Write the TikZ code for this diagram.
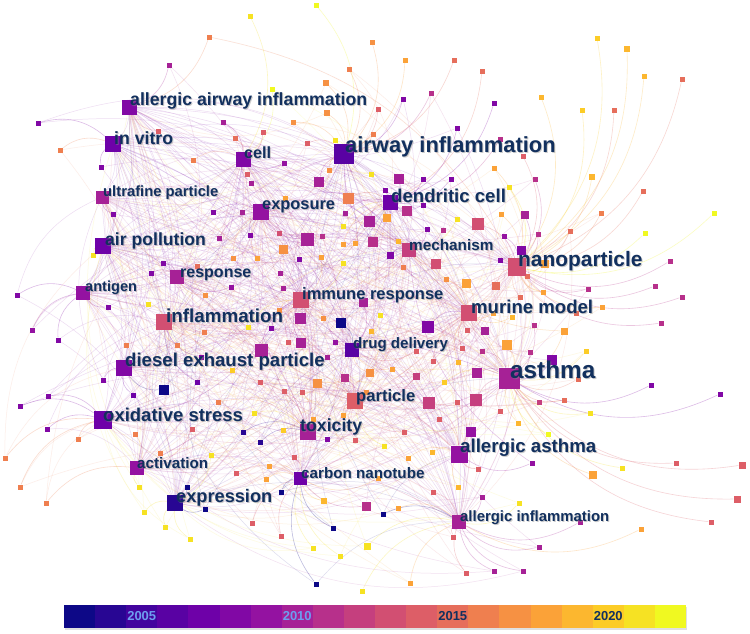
\documentclass[tikz,border=0pt]{standalone}
\usepackage{fontspec}
\setmainfont{Liberation Sans}
\pgfdeclarelayer{bg}
\pgfsetlayers{bg,main}
\definecolor{c0}{HTML}{0D0887}
\definecolor{c1}{HTML}{280693}
\definecolor{c2}{HTML}{43049E}
\definecolor{c3}{HTML}{5902A3}
\definecolor{c4}{HTML}{6E01A8}
\definecolor{c5}{HTML}{8108A5}
\definecolor{c6}{HTML}{9412A1}
\definecolor{c7}{HTML}{A62196}
\definecolor{c8}{HTML}{B7308B}
\definecolor{c9}{HTML}{C53F7E}
\definecolor{c10}{HTML}{D24F72}
\definecolor{c11}{HTML}{DD5E67}
\definecolor{c12}{HTML}{E66E5B}
\definecolor{c13}{HTML}{EF7F4F}
\definecolor{c14}{HTML}{F69143}
\definecolor{c15}{HTML}{FBA238}
\definecolor{c16}{HTML}{FCB72F}
\definecolor{c17}{HTML}{FCCC26}
\definecolor{c18}{HTML}{F6E223}
\definecolor{c19}{HTML}{F0F921}
\definecolor{labnavy}{HTML}{12305E}
\definecolor{lightyear}{HTML}{6D9DF0}
\tikzset{
  sq/.style={rectangle, inner sep=0pt, minimum size=#1, draw=none},
  edge/.style={draw=#1, draw opacity=0.27, line width=0.6pt},
  edgefaint/.style={draw=#1, draw opacity=0.14, line width=0.5pt},
  lab/.style={anchor=west, inner sep=0pt, text=labnavy},
  labshadow/.style={anchor=west, inner sep=0pt, text=black!45, text opacity=0.45},
  yearlab/.style={inner sep=0pt, font=\bfseries\fontsize{13}{13}\selectfont}
}
\def\hublist{129/107/15/5, 113/144/16/4, 243/159/15/5, 102/197/13/7, 261/212/16/6,
 103/246/16/4, 177/277/14/7, 83/293/14/6, 344/154/20/3, 390/202/15/4,
 409/250/14/9, 517/267/18/10, 301/300/16/10, 469/313/16/10, 164/322/16/10,
 124/368/16/5, 352/350/14/3, 509/378/21/7, 103/420/18/4, 355/401/16/11,
 308/432/16/7, 459/454/17/6, 137/468/14/6, 300/478/13/4, 175/503/16/1, 459/522/14/7}
\def\hubcol{{5,4,5,7,6,4,7,6,3,4,9,10,10,10,10,5,3,7,4,11,7,6,6,4,1,7}}
\def\smalllist{316/5/5/19, 250/16/5/18, 209/37/5/13, 169/65/5/7, 372/42/5/14,
 405/60/5/15, 454/60/5/12, 482/71/5/12, 349/69/5/13, 326/83/6/14, 272/89/5/19,
 403/99/5/5, 431/93/5/8, 378/109/5/11, 494/103/5/5, 541/97/5/16, 597/38/5/17,
 582/110/5/17, 327/113/6/14, 293/122/5/14, 223/122/5/7, 457/128/5/5, 627/49/6/16,
 644/76/5/16, 682/79/5/12, 614/110/5/12, 592/177/6/16, 643/191/5/12, 601/213/5/13,
 714/213/5/19, 570/231/5/12, 645/233/5/19, 670/261/5/8, 655/286/5/8, 588/289/5/8,
 682/297/5/8, 602/307/5/15, 661/323/5/8, 564/331/7/15, 586/351/5/17, 578/379/5/12,
 651/385/5/5, 720/394/5/5, 564/400/5/12, 590/413/5/18, 500/139/5/8, 523/156/5/11,
 494/168/5/15, 535/179/5/8, 509/187/5/18, 451/179/5/5, 457/219/5/18, 478/224/12/10,
 501/214/5/15, 525/215/8/7, 538/234/5/8, 504/236/5/6, 521/250/9/5, 500/260/5/5,
 527/276/5/12, 545/264/8/15, 466/283/9/15, 496/286/8/12, 543/292/5/15, 520/297/5/12,
 576/313/5/12, 512/317/5/16, 493/313/5/15, 467/330/5/11, 485/331/8/7, 534/325/5/8,
 507/345/10/15, 373/134/5/13, 335/140/5/18, 371/174/5/18, 399/179/10/7, 423/179/5/5,
 348/198/11/13, 385/190/5/5, 407/211/10/8, 423/205/5/5, 345/213/5/7, 369/221/11/7,
 387/218/8/15, 343/226/5/18, 427/229/5/5, 443/230/5/8, 373/242/10/8, 398/241/5/16,
 390/255/7/5, 343/244/5/15, 355/243/5/15, 343/263/5/18, 403/267/5/13, 436/264/10/10,
 446/279/5/14, 363/302/9/7, 158/131/5/11, 235/138/5/12, 263/132/5/11, 307/143/5/11,
 193/160/5/13, 284/163/5/6, 101/167/5/5, 247/174/5/11, 251/183/5/7, 329/170/5/14,
 319/182/10/7, 113/214/5/5, 213/212/5/5, 242/212/5/7, 285/198/5/15, 93/255/5/18,
 163/263/5/5, 219/238/5/7, 250/235/5/5, 279/233/5/10, 283/249/9/14, 307/239/13/7,
 322/236/5/8, 151/273/5/5, 197/266/5/12, 233/258/5/14, 257/258/5/15, 280/273/5/7,
 299/259/5/5, 321/257/5/15, 108/307/5/5, 148/304/5/18, 205/295/5/14, 231/287/5/6,
 283/288/5/7, 279/310/5/14, 300/318/11/7, 323/318/5/14, 341/323/10/0, 204/332/5/13,
 248/327/5/18, 271/328/5/5, 177/345/5/13, 126/345/5/13, 201/357/5/5, 261/350/13/7,
 288/342/5/11, 301/343/10/7, 335/342/5/6, 327/357/5/7, 232/370/5/17, 103/380/5/5,
 164/390/10/0, 197/382/5/4, 260/382/5/11, 317/383/9/14, 345/378/8/8, 133/395/5/4,
 284/391/5/11, 302/392/5/11, 218/402/5/13, 254/413/5/18, 192/429/5/11, 243/432/5/1,
 260/442/5/1, 135/434/5/13, 78/439/5/13, 283/430/5/17, 313/419/5/15, 327/439/5/5,
 355/440/5/11, 160/453/5/13, 211/455/5/18, 294/457/5/11, 236/473/5/11, 269/466/5/15,
 266/479/5/15, 187/487/5/0, 139/487/5/18, 205/509/5/0, 281/492/5/0, 324/501/6/16,
 144/512/5/18, 380/315/5/18, 371/331/5/16, 428/327/12/5, 462/348/5/11, 482/351/5/8,
 530/352/5/8, 433/361/5/11, 458/362/5/16, 392/369/5/15, 416/351/5/11, 370/373/8/14,
 416/376/7/9, 444/382/5/17, 477/373/10/7, 552/360/10/5, 366/392/5/14, 343/415/5/15,
 429/403/12/9, 457/402/5/11, 476/400/12/9, 500/411/5/11, 539/402/5/9, 439/419/5/11,
 518/423/5/16, 548/434/5/19, 471/432/10/6, 404/432/5/11, 384/446/5/18, 408/458/5/15,
 432/452/5/16, 478/469/5/11, 532/463/5/6, 593/475/8/15, 622/468/5/18, 676/463/5/11,
 458/487/5/16, 433/492/5/11, 378/478/5/15, 482/497/5/7, 519/503/5/18, 366/506/9/8,
 398/508/5/15, 383/514/5/0, 333/528/5/0, 453/537/5/11, 641/529/5/15, 580/522/5/7,
 48/396/5/5, 20/406/5/5, 47/429/5/5, 5/458/5/13, 20/487/5/13, 46/503/5/13,
 165/527/5/18, 190/539/5/18, 252/523/5/11, 281/536/5/11, 313/548/5/18, 316/584/5/0,
 367/546/7/18, 340/556/5/18, 362/591/5/18, 410/583/5/15, 466/573/5/11, 494/571/5/7,
 523/571/5/7, 539/547/5/7, 711/522/5/11, 737/499/7/11, 742/465/7/11, 38/123/5/5,
 60/150/5/13, 17/295/5/5, 32/330/5/6, 58/340/5/5}
\begin{document}
\begin{tikzpicture}[x=1pt, y=-1pt]
\useasboundingbox (0,0) rectangle (750,633);
\pgfmathsetseed{17}
% nodes
\foreach \x/\y/\s/\cc [count=\k] in \smalllist {
  \node[sq=\s, fill=c\cc] (s\k) at (\x,\y) {};
}
\foreach \x/\y/\s/\cc [count=\k] in \hublist {
  \node[sq=\s, fill=c\cc] (h\k) at (\x,\y) {};
}
% connectors
\begin{pgfonlayer}{bg}
\fill[white] (0,0) rectangle (750,633);
\foreach \x/\y/\s/\cc [count=\k] in \smalllist {
  \gdef\bestd{10000}\gdef\besth{1}
  \foreach \hx/\hy/\hs/\hc [count=\j] in \hublist {
    \pgfmathsetmacro\dd{veclen(\x-\hx,\y-\hy)}
    \ifdim\dd pt<\bestd pt\relax \xdef\bestd{\dd}\xdef\besth{\j}\fi
  }
  \draw[edge=c\cc] (s\k) to[bend left=28] (h\besth);
  \ifdim\bestd pt<110pt\relax
    \pgfmathrandominteger{\rr}{1}{26}
    \draw[edgefaint=c\cc] (s\k) to[bend left=25] (h\rr);
    \pgfmathrandominteger{\rr}{1}{26}
    \draw[edgefaint=c\cc] (s\k) to[bend left=25] (h\rr);
  \fi
}
\foreach \ia in {1,...,25} {
  \pgfmathtruncatemacro\ib{\ia+1}
  \pgfmathtruncatemacro\ca{\hubcol[\ia-1]}
  \foreach \jb in {\ib,...,26} {
    \draw[edgefaint=c\ca] (h\ia) to[bend left=20] (h\jb);
  }
}
\end{pgfonlayer}
% labels
\foreach \x/\y/\fs/\tx [count=\k] in {
 130/101/17.7/allergic airway inflammation, 114/138/17.7/in vitro, 244/153/16.2/cell,
 103/193/14.8/ultrafine particle, 262/207/16.4/exposure, 105/241/17.6/air pollution,
 180/275/16/response, 85/288/14.6/antigen, 345/147/21.9/airway inflammation,
 391/196/18.6/dendritic cell, 409/245/15.3/mechanism, 518/261/20.9/nanoparticle,
 302/295/16.5/immune response, 471/307/18.6/murine model, 166/316/18.8/inflammation,
 125/362/18.6/diesel exhaust particle, 353/345/15.1/drug delivery, 510/370/24.3/asthma,
 103/415/18.5/oxidative stress, 356/397/16.6/particle, 300/427/17.7/toxicity,
 460/448/18.7/allergic asthma, 137/463/15.2/activation, 301/473/15.2/carbon nanotube,
 176/498/18.2/expression, 460/518/14.9/allergic inflammation} {
  \node[labshadow, font=\bfseries\fontsize{\fs}{\fs}\selectfont] (ls\k) at (\x+1,\y+1) {\tx};
  \node[lab, font=\bfseries\fontsize{\fs}{\fs}\selectfont] (l\k) at (\x,\y) {\tx};
}
% colour bar
\fill[black!12] (65,607) rectangle (687,630);
\foreach \k in {0,...,19} {
  \fill[c\k] ({64+31.1*\k},605) rectangle ({64+31.1*(\k+1)},628);
}
\node[yearlab, text=lightyear] (y2005) at (141.75,616.5) {2005};
\node[yearlab, text=lightyear] (y2010) at (297.25,616.5) {2010};
\node[yearlab, text=labnavy] (y2015) at (452.75,616.5) {2015};
\node[yearlab, text=labnavy] (y2020) at (608.25,616.5) {2020};
\end{tikzpicture}
\end{document}
